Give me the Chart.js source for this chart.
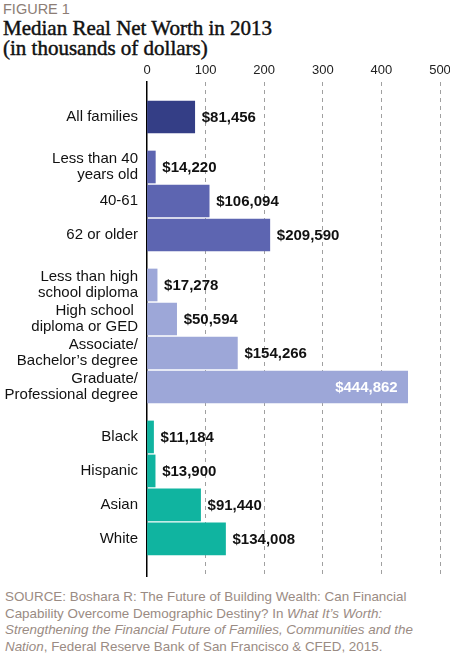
<!DOCTYPE html>
<html>
<head>
<meta charset="utf-8">
<script src="https://cdn.jsdelivr.net/npm/chart.js@4.4.1/dist/chart.umd.min.js"></script>
<style>
  body { margin: 0; background: #fff; width: 450px; height: 656px; position: relative; overflow: hidden;
         font-family: "Liberation Sans", Arial, sans-serif; }
  #fig { position: absolute; left: 3px; top: 1px; font-size: 14.5px; color: #8c7d75;
         font-family: "Liberation Sans Narrow", "Liberation Sans", sans-serif; }
  #title { position: absolute; left: 3px; top: 18px; font-family: "Liberation Serif", serif;
           font-size: 21px; line-height: 20px; color: #111; white-space: nowrap;
           -webkit-text-stroke: 0.45px #111; }
  #wrap { position: absolute; left: 0; top: 60px; width: 450px; height: 520px; }
  #source { position: absolute; left: 5px; top: 589px; font-size: 13.4px; line-height: 16.7px;
            color: #9a8b83; white-space: nowrap; }
</style>
</head>
<body>
<div id="fig">FIGURE 1</div>
<div id="title">Median Real Net Worth in 2013<br>(in thousands of dollars)</div>
<div id="wrap"><canvas id="netWorthChart"></canvas></div>
<div id="source">SOURCE: Boshara R: The Future of Building Wealth: Can Financial<br>Capability Overcome Demographic Destiny? In <i>What It’s Worth:</i><br><i>Strengthening the Financial Future of Families, Communities and the</i><br><i>Nation</i>, Federal Reserve Bank of San Francisco &amp; CFED, 2015.</div>
<script>
// Datos del gráfico
const categories = [
    "All families",
    ["Less than 40", "years old"], "40-61", "62 or older",
    ["Less than high", "school diploma"], ["High school ", "diploma or GED"],
    ["Associate/", "Bachelor’s degree"], ["Graduate/", "Professional degree"],
    "Black", "Hispanic", "Asian", "White"
];
const netWorth = [81456, 14220, 106094, 209590, 17278, 50594, 154266, 444862, 11184, 13900, 91440, 134008];
const groupOf = [0, 1, 1, 1, 2, 2, 2, 2, 3, 3, 3, 3];
const groupColors = ["#343e86", "#5d65b1", "#9da7d8", "#10b4a0"];
const xTicks = [0, 100, 200, 300, 400, 500]; // miles de dólares

// separación extra entre grupos (en filas)
const GROUP_GAP = 0.47;
const rowPos = categories.map((c, i) => i + groupOf[i] * GROUP_GAP);

// etiquetas de valor al final de cada barra
const valueLabels = {
    id: "valueLabels",
    afterDatasetsDraw(chart) {
        const ctx = chart.ctx;
        const meta = chart.getDatasetMeta(0);
        ctx.save();
        ctx.font = "bold 15px 'Liberation Sans', Arial, sans-serif";
        ctx.textBaseline = "middle";
        meta.data.forEach((bar, i) => {
            const text = "$" + netWorth[i].toLocaleString("en-US");
            const w = ctx.measureText(text).width;
            if (bar.x + 7 + w > chart.chartArea.right) {
                ctx.fillStyle = "#fff";
                ctx.textAlign = "right";
                ctx.fillText(text, bar.x - 10, bar.y + 1);
            } else {
                ctx.fillStyle = "#111";
                ctx.textAlign = "left";
                ctx.fillText(text, bar.x + 7, bar.y + 1);
            }
        });
        ctx.restore();
    },
};

new Chart(document.getElementById("netWorthChart"), {
    type: "bar",
    data: {
        datasets: [
            {
                data: netWorth.map((v, i) => ({ x: v, y: rowPos[i] })),
                backgroundColor: groupOf.map((g) => groupColors[g]),
                borderWidth: 0,
                barThickness: 32,
            },
        ],
    },
    options: {
        indexAxis: "y",
        responsive: true,
        maintainAspectRatio: false,
        animation: false,
        layout: { padding: { left: 0, right: 10, top: 0, bottom: 4 } },
        plugins: {
            legend: { display: false },
            tooltip: { enabled: false },
        },
        scales: {
            x: {
                type: "linear",
                position: "top",
                min: 0,
                max: 500000,
                afterBuildTicks: (scale) => {
                    scale.ticks = xTicks.map((v) => ({ value: v * 1000 }));
                },
                afterFit: (scale) => {
                    scale.height = 22;
                    scale.paddingLeft = 0;
                    scale.paddingRight = 0;
                },
                ticks: {
                    padding: 4,
                    color: "#222",
                    font: { family: "'Liberation Sans Narrow', 'Liberation Sans', sans-serif", size: 13 },
                    callback: (v) => v / 1000,
                },
                grid: {
                    drawTicks: false,
                    lineWidth: 1,
                    color: (c) => (c.tick && c.tick.value === 0 ? "rgba(0,0,0,0)" : "#a0a0a0"),
                },
                border: { display: false, dash: [4, 4] },
            },
            y: {
                type: "linear",
                reverse: true,
                offset: false,
                min: -1.03,
                max: 13.5,
                z: 1,
                afterBuildTicks: (scale) => {
                    scale.ticks = rowPos.map((p) => ({ value: p }));
                },
                afterFit: (scale) => {
                    scale.width = 147;
                    scale.paddingTop = 0;
                    scale.paddingBottom = 0;
                },
                ticks: {
                    autoSkip: false,
                    padding: 9,
                    color: "#111",
                    font: { family: "'Liberation Sans', Arial, sans-serif", size: 15, lineHeight: 1.07 },
                    callback: (v, i) => categories[i],
                },
                grid: { display: false, drawTicks: false, offset: false },
                border: { display: true, color: "#000", width: 1.5 },
            },
        },
    },
    plugins: [valueLabels],
});
</script>
</body>
</html>
